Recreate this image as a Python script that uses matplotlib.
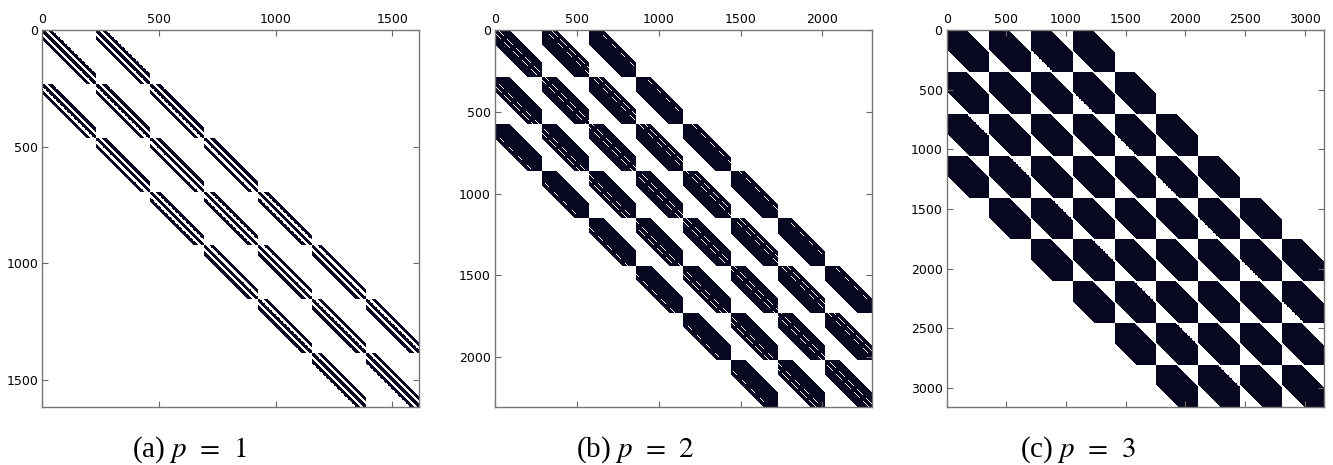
import numpy as np
import matplotlib.pyplot as plt
from matplotlib.ticker import MultipleLocator
from matplotlib.colors import ListedColormap

plt.rcParams['mathtext.fontset'] = 'stix'

# block structure of the three matrices
p_values = [1, 2, 3]
n_blocks = [7, 8, 9]            # block rows / cols
block_size = [231, 288, 351]    # rows per block
sub_stride = [33, 36, 47]       # spacing of the diagonal sub-bands inside a block
sub_halfwidth = [9, 17, 24]     # half width of one sub-band
captions = ['(a) $p\\;\\,=\\;\\,1$', '(b) $p\\;\\,=\\;\\,2$', '(c) $p\\;\\,=\\;\\,3$']
tick_step = 500

INK = '#07071f'
W, H = 1333, 465


def pattern(nb, bs, p, stride, hw):
    # block (I, J) is non-zero for |I-J| <= p, each one holding 2p+1 diagonal sub-bands
    n = nb * bs
    idx = np.arange(n, dtype=np.int16)
    blk = idx // bs
    loc = idx % bs
    near = np.abs(blk[:, None] - blk[None, :]) <= p
    offs = np.zeros(2 * bs + 1, dtype=bool)
    for a in range(-p, p + 1):
        lo = max(a * stride - hw + bs, 0)
        hi = min(a * stride + hw + bs, 2 * bs)
        offs[lo:hi + 1] = True
    d = loc[None, :] - loc[:, None] + bs
    return near & offs[d]


fig = plt.figure(figsize=(W / 100, H / 100), dpi=100)

lefts = [42.3, 495.0, 946.7]
cap_x = [189, 635, 1078]

for k in range(3):
    ax = fig.add_axes([lefts[k] / W, 58.3 / H, 377.0 / W, 376.7 / H])
    M = pattern(n_blocks[k], block_size[k], p_values[k], sub_stride[k], sub_halfwidth[k])
    ax.spy(M, aspect='auto', cmap=ListedColormap(['white', INK]))
    ax.xaxis.set_major_locator(MultipleLocator(tick_step))
    ax.yaxis.set_major_locator(MultipleLocator(tick_step))
    ax.tick_params(which='both', direction='in', length=4, width=0.8, color='#666666',
                   top=True, bottom=True, left=True, right=True,
                   labeltop=True, labelbottom=False, labelleft=True,
                   labelsize=9, pad=3)
    for s in ax.spines.values():
        s.set_color('#777777')
        s.set_linewidth(1.0)
    fig.text(cap_x[k] / W, 8 / H, captions[k], ha='center', va='baseline',
             fontsize=21, family='Liberation Serif')

fig.savefig('out.png', dpi=100)
